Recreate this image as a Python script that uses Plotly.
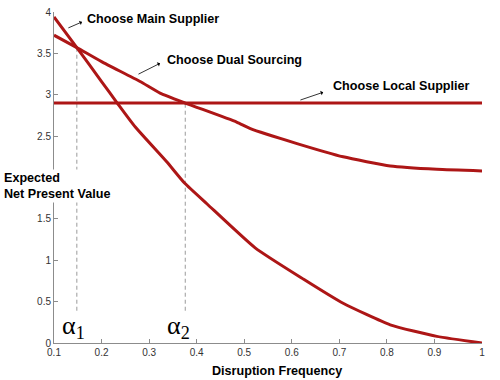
import plotly.graph_objects as go

# Data
main_x = [0.1, 0.148, 0.2, 0.233, 0.271, 0.337, 0.375, 0.422, 0.523, 0.625, 0.708, 0.807, 0.905, 1.0]
main_y = [3.94, 3.57, 3.16, 2.9, 2.61, 2.19, 1.93, 1.68, 1.15, 0.77, 0.48, 0.22, 0.08, 0.0]

dual_x = [0.1, 0.148, 0.2, 0.281, 0.323, 0.376, 0.484, 0.513, 0.611, 0.708, 0.807, 0.905, 1.0]
dual_y = [3.72, 3.57, 3.40, 3.16, 3.02, 2.9, 2.67, 2.59, 2.41, 2.25, 2.14, 2.10, 2.08]

local_x = [0.1, 1.0]
local_y = [2.9, 2.9]

alpha_x = [0.148, 0.376]
alpha_top = [3.57, 2.9]
alpha_bottom = 0.39

x_ticks = [0.1, 0.2, 0.3, 0.4, 0.5, 0.6, 0.7, 0.8, 0.9, 1.0]
x_tick_text = ["0.1", "0.2", "0.3", "0.4", "0.5", "0.6", "0.7", "0.8", "0.9", "1"]
y_ticks = [0, 0.5, 1, 1.5, 2, 2.5, 3, 3.5, 4]
y_tick_text = ["0", "0.5", "1", "1.5", "", "2.5", "3", "3.5", "4"]  # "2" is hidden under the axis label

RED = "#ad1616"
fig = go.Figure()

for ax, top in zip(alpha_x, alpha_top):
    fig.add_trace(go.Scatter(x=[ax, ax], y=[alpha_bottom, top], mode="lines",
                             line=dict(color="#9a9a9a", width=1, dash="4px,3px"),
                             showlegend=False, hoverinfo="skip"))

for xs, ys in [(local_x, local_y), (dual_x, dual_y), (main_x, main_y)]:
    fig.add_trace(go.Scatter(x=xs, y=ys, mode="lines",
                             line=dict(color=RED, width=3, shape="spline", smoothing=0.5),
                             showlegend=False))

bold = dict(family="Liberation Sans, Arial", size=12.6, color="black")
ann = []
# arrows
for (tx, ty, hx, hy) in [(0.127, 3.80, 0.159, 3.88), (0.2745, 3.24, 0.323, 3.38), (0.615, 2.93, 0.666, 3.03)]:
    ann.append(dict(x=hx, y=hy, ax=tx, ay=ty, xref="x", yref="y", axref="x", ayref="y",
                    text="", showarrow=True, arrowhead=1, arrowsize=1, arrowwidth=0.8, arrowcolor="black"))
for (tx, ty, t) in [(0.165, 3.91, "Choose Main Supplier"), (0.334, 3.42, "Choose Dual Sourcing"),
                    (0.683, 3.10, "Choose Local Supplier")]:
    ann.append(dict(x=tx, y=ty, xref="x", yref="y", text="<b>%s</b>" % t, showarrow=False,
                    xanchor="left", yanchor="middle", font=bold))
ann.append(dict(x=-0.121, y=1.90, xref="paper", yref="y", text="<b>Expected<br>Net Present Value</b>",
                showarrow=False, xanchor="left", yanchor="middle", align="left", font=bold,
                bgcolor="white", borderpad=1))
ann.append(dict(x=0.569, y=-0.084, xref="x", yref="paper", text="<b>Disruption Frequency</b>",
                showarrow=False, xanchor="center", yanchor="middle", font=bold))
for ax, lab in zip([0.141, 0.362], ["α<sub>1</sub>", "α<sub>2</sub>"]):
    ann.append(dict(x=ax, y=0.19, xref="x", yref="y", text=lab, showarrow=False,
                    xanchor="center", yanchor="middle",
                    font=dict(family="Liberation Serif, Times New Roman", size=26, color="black")))

fig.update_layout(
    width=500, height=380,
    margin=dict(l=54, r=18, t=6, b=37),
    paper_bgcolor="white", plot_bgcolor="white",
    annotations=ann,
    xaxis=dict(range=[0.1, 1.0], tickvals=x_ticks, ticktext=x_tick_text, showgrid=False, zeroline=False,
               showline=True, linecolor="#8c8c8c", linewidth=1, ticks="inside", ticklen=4, tickcolor="#8c8c8c",
               tickfont=dict(family="Liberation Sans, Arial", size=10, color="#333333")),
    yaxis=dict(range=[0, 4], tickvals=y_ticks, ticktext=y_tick_text, showgrid=False, zeroline=False,
               showline=True, linecolor="#8c8c8c", linewidth=1, ticks="inside", ticklen=4, tickcolor="#8c8c8c",
               tickfont=dict(family="Liberation Sans, Arial", size=10, color="#333333")),
)

fig.write_html("out.html", config={"displayModeBar": False},
               post_script="document.body.style.margin='0';document.body.style.overflow='hidden';")
